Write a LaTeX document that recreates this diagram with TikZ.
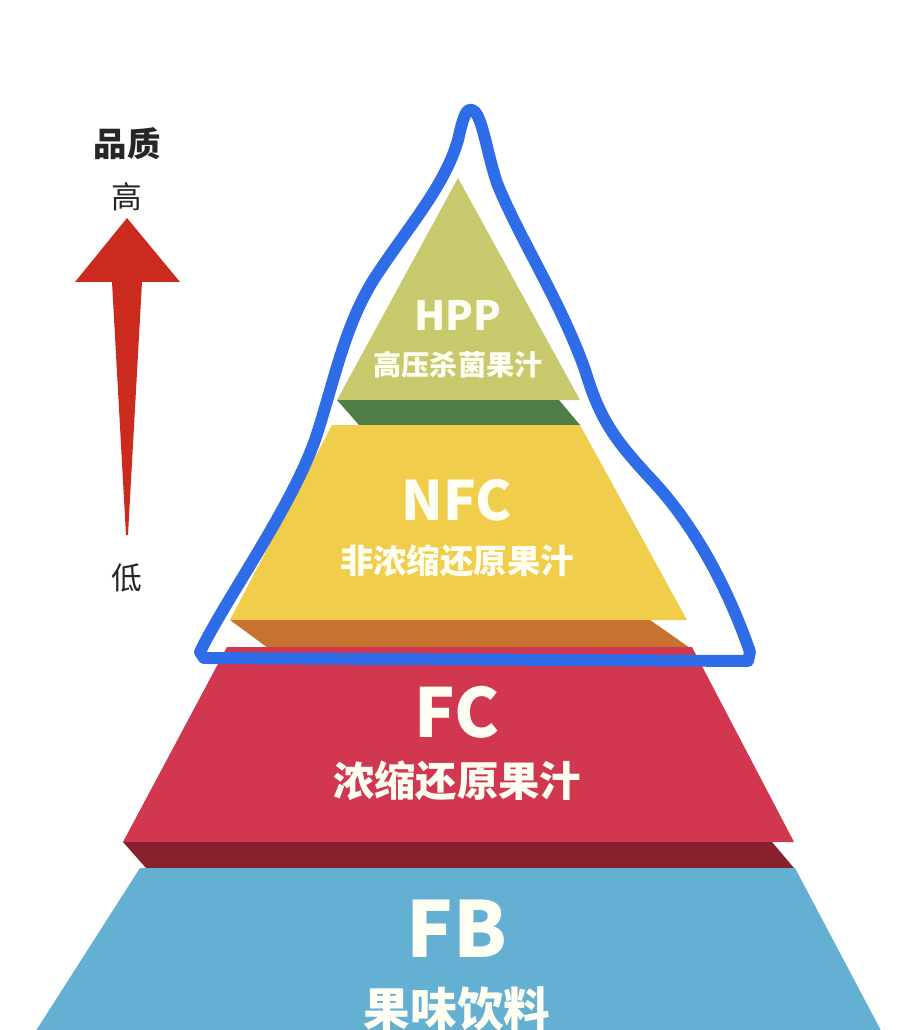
\documentclass[tikz,border=0pt]{standalone}
\usepackage{fontspec}
\setmainfont{Noto Sans CJK SC}
\definecolor{lgreen}{HTML}{C7C96C}
\definecolor{dgreen}{HTML}{4F7D46}
\definecolor{nfcyellow}{HTML}{F0CE4C}
\definecolor{nfcorange}{HTML}{C87232}
\definecolor{fcred}{HTML}{D1384F}
\definecolor{fcdark}{HTML}{86212D}
\definecolor{fbblue}{HTML}{64B0D3}
\definecolor{penblue}{HTML}{2F6CE8}
\definecolor{arrowred}{HTML}{CB2B1F}
\definecolor{txtwhite}{HTML}{FFFEF2}
\tikzset{
  layer/.style={draw=none},
  title/.style={text=txtwhite, font=\bfseries, anchor=base, inner sep=0pt},
  axislabel/.style={text=black!85, anchor=base, inner sep=0pt},
}
\begin{document}
\begin{tikzpicture}[x=0.02cm,y=-0.02cm]
\useasboundingbox (0,0) rectangle (914,1030);
\clip (0,0) rectangle (914,1030);
\fill[white] (0,0) rectangle (914,1030);
% pyramid layers
\fill[lgreen] (458,178) -- (580,400) -- (337,400) -- cycle;
\fill[dgreen] (337,400) -- (559,400) -- (580,425) -- (359,425) -- cycle;
\fill[nfcyellow] (332,425) -- (580,425) -- (687,620) -- (230,620) -- cycle;
\fill[nfcorange] (230,620) -- (650,620) -- (690,648) -- (268,648) -- cycle;
\fill[fcred] (227,647) -- (692,647) -- (794,842) -- (123,842) -- cycle;
\fill[fcdark] (123,842) -- (772,842) -- (794,868) -- (146,868) -- cycle;
\fill[fbblue] (140,868) -- (795,868) -- (886,1040) -- (30,1040) -- cycle;
% texts in pyramid
\node[title, font=\bfseries\fontsize{23}{26}\selectfont] (hpp) at (458,330) {HPP};
\node[title, font=\bfseries\fontsize{16}{18}\selectfont] (hppzh) at (458,375) {高压杀菌果汁};
\node[title, font=\bfseries\fontsize{31}{34}\selectfont] (nfc) at (457,520) {NFC};
\node[title, font=\bfseries\fontsize{19}{22}\selectfont] (nfczh) at (457,573) {非浓缩还原果汁};
\node[title, font=\bfseries\fontsize{38.5}{42}\selectfont] (fc) at (457,737) {FC};
\node[title, font=\bfseries\fontsize{23.5}{26}\selectfont] (fczh) at (457,796) {浓缩还原果汁};
\node[title, font=\bfseries\fontsize{44}{48}\selectfont] (fb) at (457,957) {FB};
\node[title, font=\bfseries\fontsize{26.5}{30}\selectfont] (fbzh) at (457,1026) {果味饮料};
% hand-drawn outline
\draw[penblue, line width=6.8pt, line join=round, line cap=round]
  (200,652)
  .. controls (225,600) and (290,510) .. (315,440)
  .. controls (335,380) and (345,320) .. (380,270)
  .. controls (410,225) and (445,185) .. (458,140)
  .. controls (463,118) and (466,108) .. (472,110)
  .. controls (482,113) and (486,150) .. (497,183)
  .. controls (520,240) and (560,300) .. (585,370)
  .. controls (600,420) and (615,440) .. (650,478)
  .. controls (690,520) and (725,580) .. (750,652)
  -- (748,661) -- (204,658) -- cycle;
% quality arrow
\fill[arrowred] (127,218) -- (180,282) -- (142,282) -- (128,535) -- (126,535) -- (112,282) -- (75,282) -- cycle;
\node[axislabel, font=\bfseries\fontsize{19}{22}\selectfont] (quality) at (127,157) {品质};
\node[axislabel, font=\fontsize{17.5}{20}\selectfont] (high) at (127,209) {高};
\node[axislabel, font=\fontsize{17.5}{20}\selectfont] (low) at (127,589) {低};
\end{tikzpicture}
\end{document}
